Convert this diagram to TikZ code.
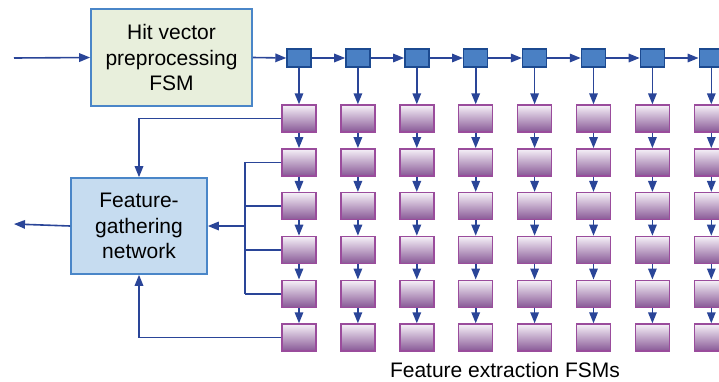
\documentclass[tikz,border=0pt]{standalone}
\usepackage{fontspec}
\setmainfont{Liberation Sans}
\usetikzlibrary{arrows.meta}
\definecolor{wireblue}{HTML}{2A4598}
\definecolor{hitfill}{HTML}{E8EFDC}
\definecolor{boxline}{HTML}{4A86C8}
\definecolor{featfill}{HTML}{C6DCF0}
\definecolor{regfill}{HTML}{4A80C4}
\definecolor{regline}{HTML}{1C4A90}
\definecolor{fsmtop}{HTML}{F6F1F8}
\definecolor{fsmbot}{HTML}{885896}
\definecolor{fsmline}{HTML}{9A4C9C}
\tikzset{
    bigbox/.style={draw=boxline, line width=1.6pt, inner sep=0pt, align=center,
        font=\fontsize{21}{25.5}\selectfont},
    regbox/.style={draw=regline, fill=regfill, line width=1.4pt, inner sep=0pt,
        minimum width=24pt, minimum height=18pt},
    fsmbox/.style={draw=fsmline, top color=fsmtop, bottom color=fsmbot, line width=1.4pt,
        inner sep=0pt, minimum width=34pt, minimum height=27pt},
    wire/.style={draw=wireblue, line width=1.6pt},
    arr/.style={wire, -{Triangle[length=11pt,width=8.5pt]}}
}

\begin{document}
\begin{tikzpicture}[x=1pt,y=-1pt]
    \clip (0,0) rectangle (719,381);
    % Preprocessing and gathering blocks
    \node[bigbox, fill=hitfill, minimum width=161pt, minimum height=97pt] (hit) at (171.5,57.5)
        {Hit vector\\preprocessing\\FSM};
    \node[bigbox, fill=featfill, minimum width=136pt, minimum height=96pt] (feat) at (139,226)
        {Feature-\\gathering\\network};
    \coordinate (in) at (14,58);
    \coordinate (out) at (14,224);
    \coordinate (bus) at (245,294);
    \draw[arr] (in) -- (hit.west);
    \draw[arr] (feat.west) -- (out);
    % Array of feature extraction FSMs
    \foreach \i in {0,...,7}{
        \pgfmathsetmacro{\cx}{299+58.9*\i}
        \node[regbox] (t\i) at (\cx,58) {};
        \foreach \j in {0,...,5}{
            \node[fsmbox] (f\i-\j) at (\cx,{118.5+43.8*\j}) {};
        }
        \draw[arr] (t\i) -- (f\i-0);
        \foreach \j [evaluate=\j as \k using int(\j+1)] in {0,...,4}{
            \draw[arr] (f\i-\j) -- (f\i-\k);
        }
    }
    \draw[arr] (hit.east) -- (t0.west);
    \foreach \i [evaluate=\i as \k using int(\i+1)] in {0,...,6}{
        \draw[arr] (t\i) -- (t\k);
    }
    % Connections to the gathering network
    \draw[wire] (f0-1.west) -| (bus);
    \foreach \j in {2,3,4}{
        \draw[wire] (f0-\j.west) -- (f0-\j.west -| bus);
    }
    \draw[arr] (bus |- feat.east) -- (feat.east);
    \draw[arr] (f0-0.west) -| (feat.north);
    \draw[arr] (f0-5.west) -| (feat.south);
    \node[font=\fontsize{21}{25.5}\selectfont, anchor=base] (cap) at (505,377) {Feature extraction FSMs};
\end{tikzpicture}
\end{document}
